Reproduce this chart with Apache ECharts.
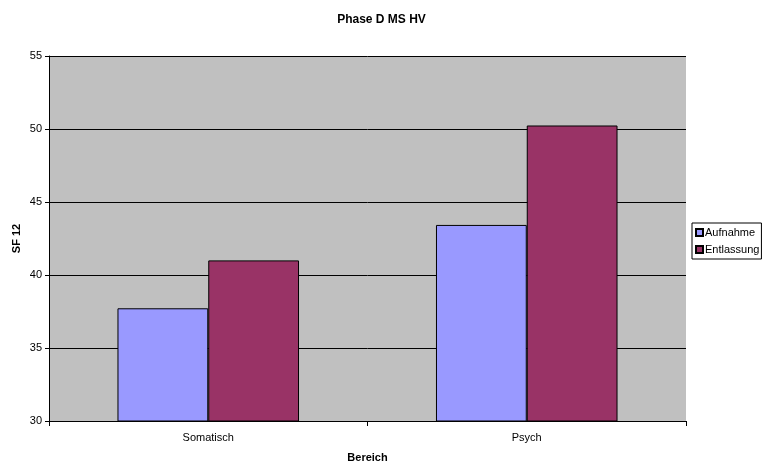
<!DOCTYPE html>
<html>
<head>
<meta charset="utf-8">
<script src="https://cdn.jsdelivr.net/npm/echarts@6/dist/echarts.min.js"></script>
<style>
  html, body { margin: 0; padding: 0; background: #fff; }
  #chart { width: 763px; height: 461px; }
</style>
</head>
<body>
<div id="chart"></div>
<script>
// data
const categories = ['Somatisch', 'Psych']
const seriesNames = ['Aufnahme', 'Entlassung']
const aufnahme = [37.72, 43.43]
const entlassung = [41.0, 50.24]

const chart = echarts.init(document.getElementById('chart'))
const font = 'Liberation Sans, Arial, sans-serif'

chart.setOption({
  animation: false,
  title: {
    text: 'Phase D MS HV',
    left: 'center',
    top: 9,
    textStyle: { fontFamily: font, fontSize: 12, fontWeight: 'bold', color: '#000' }
  },
  legend: {
    data: seriesNames,
    orient: 'vertical',
    left: 692,
    top: 223,
    itemWidth: 7,
    itemHeight: 7,
    itemGap: 6,
    padding: [4, 2, 4, 3],
    borderColor: '#000',
    borderWidth: 1,
    icon: 'rect',
    textStyle: { fontFamily: font, fontSize: 11, color: '#000', padding: [0, 0, 0, -3] }
  },
  grid: {
    left: 49,
    top: 56,
    width: 637,
    height: 365,
    outerBoundsMode: 'none',
    containLabel: false,
    show: true,
    backgroundColor: '#c0c0c0',
    borderWidth: 0
  },
  xAxis: {
    type: 'category',
    data: categories,
    name: 'Bereich',
    nameLocation: 'middle',
    nameGap: 31,
    nameMoveOverlap: false,
    nameTextStyle: { fontFamily: font, fontSize: 11, fontWeight: 'bold', color: '#000' },
    axisLine: { lineStyle: { color: '#000' } },
    axisTick: { show: true, length: 5, lineStyle: { color: '#000' } },
    axisLabel: { fontFamily: font, fontSize: 11, color: '#000', margin: 11 }
  },
  yAxis: {
    type: 'value',
    min: 30,
    max: 55,
    interval: 5,
    name: 'SF 12',
    nameLocation: 'middle',
    nameGap: 27,
    nameMoveOverlap: false,
    nameTextStyle: { fontFamily: font, fontSize: 11, fontWeight: 'bold', color: '#000' },
    axisLine: { show: true, lineStyle: { color: '#000' } },
    axisTick: { show: true, length: 4, lineStyle: { color: '#000' } },
    axisLabel: { fontFamily: font, fontSize: 11, color: '#000', margin: 7 },
    splitLine: { lineStyle: { color: '#000', width: 1 } }
  },
  series: [
    {
      name: seriesNames[0],
      type: 'bar',
      data: aufnahme,
      barGap: '0%',
      barCategoryGap: '43%',
      itemStyle: { color: '#9999ff', borderColor: '#000', borderWidth: 1 }
    },
    {
      name: seriesNames[1],
      type: 'bar',
      data: entlassung,
      itemStyle: { color: '#993366', borderColor: '#000', borderWidth: 1 }
    }
  ]
})
</script>
</body>
</html>
